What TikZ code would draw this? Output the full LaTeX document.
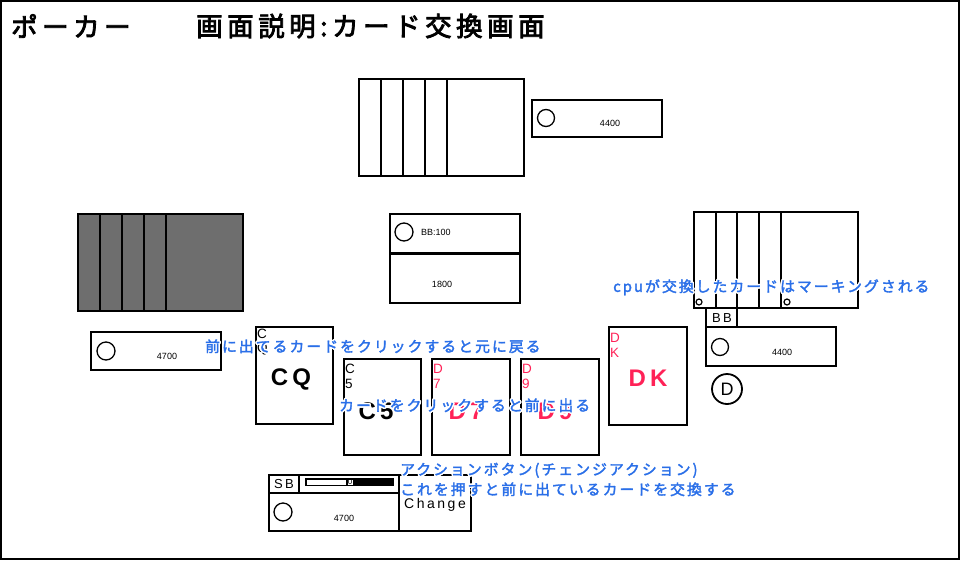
\documentclass[tikz,border=0pt]{standalone}
\usepackage{fontspec}
\usepackage{contour}
\setmainfont{Liberation Sans}
\newfontfamily\jp[LetterSpace=14, AutoFakeBold=2.2]{Noto Sans CJK JP}
\newfontfamily\jpt[LetterSpace=17, AutoFakeBold=3]{Noto Sans CJK JP}
\newfontfamily\lat[LetterSpace=18]{Liberation Sans}
\definecolor{bluetxt}{HTML}{2A6FE8}
\definecolor{redtxt}{HTML}{FF2257}
\definecolor{handgray}{HTML}{6E6E6E}
\contourlength{1.4pt}
\tikzset{
  box/.style={draw, line width=1.6pt},
  hand/.style={draw, line width=1.6pt},
  chip/.style={draw, line width=1.3pt, circle, inner sep=0pt},
  num/.style={font=\fontsize{9}{9}\selectfont, inner sep=0pt},
  note/.style={text=bluetxt, font=\jp\bfseries\fontsize{14.8}{16}\selectfont, inner sep=0pt, anchor=west},
  ttl/.style={font=\jpt\bfseries\fontsize{26.5}{28}\selectfont, inner sep=0pt, anchor=west},
  small/.style={font=\fontsize{13.5}{14}\selectfont, inner sep=0pt, anchor=west},
  big/.style={font=\lat\bfseries\fontsize{24}{26}\selectfont, inner sep=0pt},
}
\begin{document}
\begin{tikzpicture}[x=1pt,y=-1pt]
\useasboundingbox (0,0) rectangle (960,560);
\draw[line width=2.5pt] (1.2,1.2) rectangle (958.8,558.8);
% title
\node[ttl] (t1) at (11,26) {ポーカー};
\node[ttl] (t2) at (196,26) {画面説明:カード交換画面};
% top hand
\draw[hand] (359,79) rectangle (524,176);
\foreach \x in {381,403,425,447} \draw[hand] (\x,79) -- (\x,176);
% top chip box
\draw[box] (532,100) rectangle (662,137);
\node[chip, minimum size=17pt] (c1) at (546,118) {};
\node[num] (n1) at (610,123) {4400};
% left hand
\draw[hand, fill=handgray] (78,214) rectangle (243,311);
\foreach \x in {100,122,144,166} \draw[hand] (\x,214) -- (\x,311);
% left chip box
\draw[box] (91,332) rectangle (221,370);
\node[chip, minimum size=18pt] (c2) at (106,351) {};
\node[num] (n2) at (167,356) {4700};
% pot
\draw[box] (390,214) rectangle (520,303);
\draw[line width=3pt] (390,253) -- (520,253);
\node[chip, minimum size=18pt] (c3) at (404,232) {};
\node[num, anchor=west] (bb) at (421,232) {BB:100};
\node[num] (pot) at (442,284) {1800};
% right hand
\draw[hand] (694,212) rectangle (858,308);
\foreach \x in {716,737,759,781} \draw[hand] (\x,212) -- (\x,308);
\node[chip, minimum size=6pt, line width=1.2pt] (m1) at (699,302) {};
\node[chip, minimum size=6pt, line width=1.2pt] (m2) at (787,302) {};
% BB tag and right chip box
\draw[box] (706,308) rectangle (737,327);
\node[font=\lat\fontsize{13}{13}\selectfont, inner sep=0pt] (bbt) at (722,318) {BB};
\draw[box] (706,327) rectangle (836,366);
\node[chip, minimum size=17pt] (c4) at (720,347) {};
\node[num] (n4) at (782,352) {4400};
\node[chip, minimum size=30pt, line width=1.8pt, font=\fontsize{18}{18}\selectfont] (dealer) at (727,389) {D};
% cards
\draw[box] (256,327) rectangle (333,424);
\node[small] (cq1) at (257,334) {C};
\node[small] (cq2) at (257,349) {Q};
\node[big] (cq) at (291,379) {CQ};
\draw[box] (344,359) rectangle (421,455);
\node[small] (c51) at (345,369) {C};
\node[small] (c52) at (345,384) {5};
\node[big] (c5) at (376,411) {C5};
\draw[box] (432,359) rectangle (510,455);
\node[small, text=redtxt] (d71) at (433,369) {D};
\node[small, text=redtxt] (d72) at (433,384) {7};
\node[big, text=redtxt] (d7) at (466,411) {D7};
\draw[box] (521,359) rectangle (599,455);
\node[small, text=redtxt] (d91) at (522,369) {D};
\node[small, text=redtxt] (d92) at (522,384) {9};
\node[big, text=redtxt] (d9) at (555,411) {D9};
\draw[box] (609,327) rectangle (687,425);
\node[small, text=redtxt] (dk1) at (610,338) {D};
\node[small, text=redtxt] (dk2) at (610,353) {K};
\node[big, text=redtxt] (dk) at (648,378) {DK};
% bottom player
\draw[box] (269,475) rectangle (299,493);
\node[font=\lat\fontsize{13}{13}\selectfont, inner sep=0pt] (sb) at (284,484) {SB};
\draw[box] (299,475) rectangle (399,493);
\fill (305,478) rectangle (394,486);
\fill[white] (306.5,479.5) rectangle (346,484.5);
\fill[white] (347.5,479.5) rectangle (352.5,484.5);
\node[font=\fontsize{8}{8}\selectfont, inner sep=0pt] (zero) at (350,482) {0};
\draw[box] (269,493) rectangle (399,531);
\node[chip, minimum size=18pt] (c5c) at (283,512) {};
\node[num] (n5) at (344,518) {4700};
\draw[box] (399,475) rectangle (471,531);
\node[font=\lat\fontsize{14}{14}\selectfont, inner sep=0pt] (chg) at (435,505) {Change};
% blue notes
\node[note] (note1) at (613,288) {\contour{white}{cpuが交換したカードはマーキングされる}};
\node[note] (note2) at (205,347) {\contour{white}{前に出てるカードをクリックすると元に戻る}};
\node[note] (note3) at (339,406) {\contour{white}{カードをクリックすると前に出る}};
\node[note] (note4) at (400,471) {\contour{white}{アクションボタン(チェンジアクション)}};
\node[note] (note5) at (400,490) {\contour{white}{これを押すと前に出ているカードを交換する}};
\end{tikzpicture}
\end{document}
